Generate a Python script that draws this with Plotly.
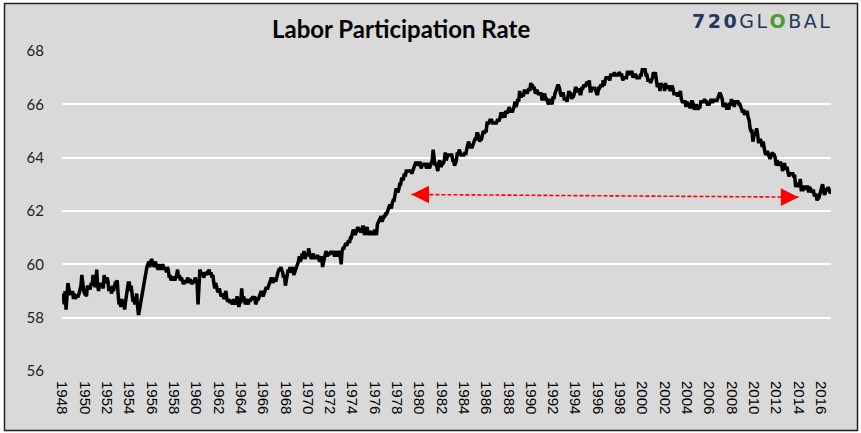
import plotly.graph_objects as go

# ---------------- data (monthly civilian labor force participation rate, %) ----------------
start_year = 1948
lfpr_1940s = [
    58.6, 58.9, 58.5, 59.0, 58.3, 59.2, 59.3, 59.1, 58.9, 58.9, 58.9, 59.0,  # 1948
    58.7, 58.9, 58.7, 58.8, 58.8, 58.8, 58.9, 59.0, 59.2, 59.6, 59.1, 59.0,  # 1949
]
lfpr_1950s = [
    58.9, 58.9, 58.8, 59.2, 59.1, 59.1, 59.1, 59.3, 59.2, 59.6, 59.3, 59.2,  # 1950
    59.2, 59.8, 59.2, 59.0, 59.3, 59.2, 59.3, 59.2, 59.1, 59.6, 59.3, 59.4,  # 1951
    59.5, 59.4, 59.0, 59.1, 59.1, 58.9, 59.2, 59.0, 59.2, 59.3, 59.3, 59.4,  # 1952
    58.9, 58.5, 58.6, 58.4, 58.7, 58.5, 58.6, 58.3, 58.6, 58.9, 59.1, 59.3,  # 1953
    59.3, 59.0, 59.2, 58.9, 58.6, 58.7, 58.5, 58.7, 58.9, 58.4, 58.1, 58.3,  # 1954
    58.5, 58.8, 58.9, 59.2, 59.3, 59.5, 59.7, 59.9, 60.0, 60.1, 59.9, 60.1,  # 1955
    60.2, 60.1, 60.0, 59.9, 60.1, 60.0, 59.9, 59.8, 59.9, 60.0, 59.8, 59.9,  # 1956
    60.0, 59.9, 59.8, 59.9, 59.7, 59.9, 59.8, 59.5, 59.6, 59.4, 59.5, 59.5,  # 1957
    59.5, 59.4, 59.5, 59.6, 59.8, 59.5, 59.6, 59.4, 59.5, 59.4, 59.3, 59.3,  # 1958
    59.4, 59.3, 59.4, 59.5, 59.3, 59.4, 59.4, 59.3, 59.3, 59.4, 59.3, 59.5,  # 1959
]
lfpr_1960s = [
    59.4, 59.3, 58.5, 59.7, 59.8, 59.7, 59.6, 59.7, 59.5, 59.6, 59.7, 59.6,  # 1960
    59.7, 59.7, 59.8, 59.6, 59.7, 59.5, 59.6, 59.3, 59.1, 59.3, 59.2, 59.0,  # 1961
    59.0, 59.1, 58.9, 58.8, 58.9, 58.8, 58.7, 58.9, 59.0, 58.7, 58.6, 58.7,  # 1962
    58.6, 58.6, 58.6, 58.5, 58.7, 58.6, 58.5, 58.6, 58.8, 58.6, 58.4, 58.6,  # 1963
    58.6, 59.1, 58.6, 58.8, 58.6, 58.5, 58.7, 58.6, 58.5, 58.7, 58.6, 58.7,  # 1964
    58.7, 58.8, 58.7, 58.8, 58.5, 58.6, 58.7, 58.7, 58.8, 58.9, 59.0, 58.9,  # 1965
    58.8, 58.9, 59.0, 59.1, 59.1, 59.1, 59.2, 59.3, 59.4, 59.5, 59.4, 59.3,  # 1966
    59.5, 59.4, 59.4, 59.6, 59.7, 59.8, 59.8, 59.9, 59.8, 59.7, 59.5, 59.6,  # 1967
    59.2, 59.5, 59.6, 59.8, 59.7, 59.9, 59.7, 59.8, 59.9, 59.6, 59.7, 59.8,  # 1968
    59.9, 60.0, 60.1, 60.3, 60.1, 60.2, 60.4, 60.3, 60.5, 60.2, 60.3, 60.4,  # 1969
]
lfpr_1970s = [
    60.3, 60.6, 60.4, 60.3, 60.2, 60.3, 60.4, 60.2, 60.3, 60.2, 60.3, 60.3,  # 1970
    60.2, 60.1, 60.2, 60.3, 59.9, 60.1, 60.3, 60.4, 60.5, 60.3, 60.4, 60.4,  # 1971
    60.4, 60.5, 60.4, 60.5, 60.4, 60.3, 60.4, 60.5, 60.3, 60.4, 60.5, 60.3,  # 1972
    60.0, 60.5, 60.6, 60.6, 60.7, 60.8, 60.7, 60.8, 60.9, 60.8, 61.0, 61.0,  # 1973
    61.2, 61.3, 61.2, 61.1, 61.2, 61.3, 61.4, 61.3, 61.3, 61.2, 61.3, 61.4,  # 1974
    61.4, 61.1, 61.2, 61.3, 61.4, 61.1, 61.2, 61.2, 61.2, 61.1, 61.2, 61.1,  # 1975
    61.3, 61.2, 61.1, 61.5, 61.6, 61.7, 61.8, 61.8, 61.6, 61.7, 61.8, 61.8,  # 1976
    61.9, 61.9, 62.0, 62.1, 62.2, 62.2, 62.1, 62.3, 62.4, 62.4, 62.7, 62.8,  # 1977
    62.8, 62.7, 62.8, 63.0, 63.0, 63.2, 63.2, 63.2, 63.4, 63.3, 63.5, 63.5,  # 1978
    63.5, 63.5, 63.5, 63.5, 63.4, 63.5, 63.6, 63.7, 63.8, 63.8, 63.8, 63.7,  # 1979
]
lfpr_1980s = [
    63.8, 63.8, 63.6, 63.7, 63.8, 63.7, 63.8, 63.7, 63.6, 63.7, 63.8, 63.6,  # 1980
    63.7, 63.8, 63.9, 64.3, 64.0, 63.7, 63.8, 63.7, 63.5, 63.8, 63.9, 63.7,  # 1981
    63.7, 63.8, 63.8, 63.9, 64.2, 63.9, 64.0, 64.1, 64.1, 64.1, 64.1, 64.1,  # 1982
    63.9, 63.9, 63.7, 63.8, 63.9, 64.2, 64.1, 64.3, 64.2, 64.1, 64.1, 64.1,  # 1983
    64.1, 64.2, 64.1, 64.3, 64.5, 64.6, 64.5, 64.4, 64.4, 64.4, 64.5, 64.6,  # 1984
    64.7, 64.7, 64.9, 64.9, 64.8, 64.6, 64.7, 64.7, 64.9, 65.0, 64.9, 65.0,  # 1985
    65.0, 65.3, 65.3, 65.3, 65.4, 65.4, 65.4, 65.3, 65.3, 65.3, 65.3, 65.3,  # 1986
    65.4, 65.4, 65.4, 65.5, 65.7, 65.5, 65.6, 65.7, 65.5, 65.7, 65.7, 65.7,  # 1987
    65.8, 65.9, 65.7, 65.8, 65.7, 65.8, 65.9, 66.1, 65.9, 66.0, 66.2, 66.1,  # 1988
    66.5, 66.3, 66.3, 66.4, 66.3, 66.5, 66.5, 66.5, 66.4, 66.5, 66.6, 66.5,  # 1989
]
lfpr_1990s = [
    66.8, 66.7, 66.7, 66.6, 66.6, 66.4, 66.5, 66.5, 66.4, 66.4, 66.4, 66.4,  # 1990
    66.2, 66.2, 66.3, 66.4, 66.2, 66.2, 66.1, 66.0, 66.2, 66.1, 66.1, 66.0,  # 1991
    66.3, 66.2, 66.4, 66.5, 66.6, 66.7, 66.7, 66.6, 66.4, 66.3, 66.4, 66.4,  # 1992
    66.2, 66.2, 66.2, 66.1, 66.4, 66.5, 66.4, 66.4, 66.2, 66.3, 66.3, 66.4,  # 1993
    66.6, 66.6, 66.5, 66.5, 66.6, 66.4, 66.4, 66.6, 66.6, 66.7, 66.7, 66.7,  # 1994
    66.8, 66.8, 66.7, 66.9, 66.5, 66.5, 66.6, 66.6, 66.6, 66.6, 66.5, 66.4,  # 1995
    66.4, 66.6, 66.6, 66.7, 66.7, 66.7, 66.9, 66.7, 66.9, 67.0, 67.0, 67.0,  # 1996
    67.0, 66.9, 67.1, 67.1, 67.1, 67.1, 67.2, 67.1, 67.1, 67.1, 67.1, 67.2,  # 1997
    67.1, 67.1, 67.1, 66.9, 67.0, 67.0, 67.0, 67.0, 67.2, 67.2, 67.1, 67.2,  # 1998
    67.2, 67.2, 67.0, 67.1, 67.1, 67.1, 67.0, 67.0, 67.0, 67.0, 67.1, 67.1,  # 1999
]
lfpr_2000s = [
    67.3, 67.3, 67.3, 67.3, 67.1, 67.1, 66.9, 66.9, 66.9, 66.8, 66.9, 67.0,  # 2000
    67.2, 67.1, 67.2, 66.9, 66.7, 66.7, 66.8, 66.5, 66.8, 66.7, 66.7, 66.7,  # 2001
    66.5, 66.8, 66.6, 66.7, 66.7, 66.6, 66.5, 66.6, 66.7, 66.6, 66.4, 66.4,  # 2002
    66.4, 66.4, 66.3, 66.4, 66.4, 66.5, 66.2, 66.1, 66.1, 66.1, 66.1, 65.9,  # 2003
    66.1, 66.0, 66.0, 65.9, 65.9, 66.1, 66.1, 66.0, 65.8, 65.9, 66.0, 65.9,  # 2004
    65.8, 65.9, 65.9, 66.1, 66.1, 66.1, 66.1, 66.2, 66.1, 66.1, 66.0, 66.0,  # 2005
    66.0, 66.1, 66.2, 66.1, 66.1, 66.2, 66.1, 66.2, 66.1, 66.2, 66.3, 66.4,  # 2006
    66.4, 66.3, 66.2, 65.9, 66.0, 66.0, 66.0, 65.8, 66.0, 65.8, 66.0, 66.0,  # 2007
    66.2, 66.0, 66.1, 65.9, 66.1, 66.1, 66.1, 66.1, 66.0, 66.0, 65.9, 65.8,  # 2008
    65.7, 65.8, 65.6, 65.7, 65.7, 65.7, 65.5, 65.4, 65.1, 65.0, 65.0, 64.6,  # 2009
]
lfpr_2010s = [
    64.8, 64.9, 64.9, 65.1, 64.9, 64.6, 64.6, 64.7, 64.6, 64.4, 64.6, 64.3,  # 2010
    64.2, 64.1, 64.2, 64.2, 64.1, 64.0, 64.0, 64.1, 64.2, 64.1, 64.1, 64.0,  # 2011
    63.7, 63.9, 63.8, 63.7, 63.8, 63.8, 63.7, 63.5, 63.6, 63.8, 63.6, 63.6,  # 2012
    63.6, 63.4, 63.3, 63.4, 63.4, 63.4, 63.4, 63.3, 63.3, 62.9, 63.0, 62.9,  # 2013
    63.0, 63.0, 63.2, 62.8, 62.8, 62.8, 62.9, 62.9, 62.8, 62.9, 62.9, 62.7,  # 2014
    62.9, 62.8, 62.7, 62.7, 62.8, 62.6, 62.6, 62.6, 62.4, 62.5, 62.5, 62.6,  # 2015
    62.7, 62.9, 63.0, 62.8, 62.6, 62.7, 62.8, 62.8, 62.9, 62.8, 62.7, 62.7,  # 2016
]
tick_years = list(range(1948, 2017, 2))
y_ticks = [56, 58, 60, 62, 64, 66, 68]
# red "same level" arrow (year, rate) at both tips
arrow_left = (1979.3, 62.62)
arrow_right = (2014.0, 62.52)

title_text = "Labor Participation Rate"

# ---------------- build ----------------
values = lfpr_1940s + lfpr_1950s + lfpr_1960s + lfpr_1970s + lfpr_1980s + lfpr_1990s + lfpr_2000s + lfpr_2010s
x_dates = [start_year + i / 12 for i in range(len(values))]

W, H = 861, 433
ML, MR, MT, MB = 62, 30, 51, 62
PW, PH = W - ML - MR, H - MT - MB


def px(xp):
    return (xp - ML) / PW


def py(yp):
    return (H - MB - yp) / PH


fig = go.Figure()
fig.add_trace(go.Scatter(x=x_dates, y=values, mode="lines",
                         line=dict(color="black", width=3.5), hoverinfo="skip", showlegend=False))

# dashed red arrow shaft
fig.add_trace(go.Scatter(x=[arrow_left[0], arrow_right[0]], y=[arrow_left[1], arrow_right[1]],
                         mode="lines", line=dict(color="#FF0000", width=1.6, dash="4px,2px"),
                         hoverinfo="skip", showlegend=False))

annotations = []
for tip, sgn in ((arrow_left, 1), (arrow_right, -1)):
    annotations.append(dict(x=tip[0], y=tip[1], xref="x", yref="y", ax=sgn * 10, ay=0,
                            showarrow=True, arrowhead=2, arrowsize=2.2, arrowwidth=1.6,
                            arrowcolor="#FF0000", text=""))

annotations.append(dict(x=px(401), y=py(28), xref="paper", yref="paper", showarrow=False,
                        text="<b>" + title_text + "</b>", xanchor="center", yanchor="middle",
                        font=dict(family="Lato", size=24, color="black")))
annotations.append(dict(x=px(834), y=py(21), xref="paper", yref="paper", showarrow=False,
                        xanchor="right", yanchor="middle",
                        text="<span style='letter-spacing:2.5px'><b>720</b>GL"
                             "<span style='color:#4a9a3a'><b>O</b></span>BAL</span>",
                        font=dict(family="DejaVu Sans", size=19, color="#1f3a5c")))

fig.update_layout(
    width=W, height=H,
    margin=dict(l=ML, r=MR, t=MT, b=MB, pad=0),
    paper_bgcolor="white",
    plot_bgcolor="#D9D9D9",
    shapes=[dict(type="rect", xref="paper", yref="paper",
                 x0=px(4.5), x1=px(857.5), y0=py(430.5), y1=py(3.5),
                 fillcolor="#D9D9D9", line=dict(color="#222222", width=1.5), layer="below")],
    annotations=annotations,
    xaxis=dict(range=[1947.97, 2016.92], tickmode="array", tickvals=tick_years,
               ticktext=[str(y) for y in tick_years], tickangle=90, showgrid=False,
               zeroline=False, showline=False, ticks="", ticklabelstandoff=9,
               tickfont=dict(family="Liberation Sans", size=15, color="black")),
    yaxis=dict(range=[56, 68], tickmode="array", tickvals=y_ticks,
               ticktext=[str(v) for v in y_ticks], showgrid=True, gridcolor="white",
               gridwidth=2, zeroline=False, showline=False, ticks="", ticklabelstandoff=17,
               tickfont=dict(family="Lato", size=15, color="#222222")),
    font=dict(family="Lato"),
)

fig.write_html("out.html")
